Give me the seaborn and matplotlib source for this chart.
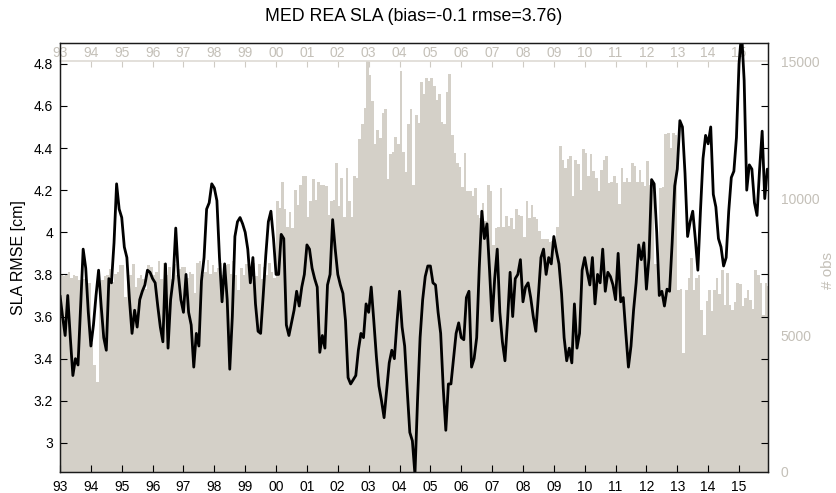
import numpy as np
import pandas as pd
import matplotlib
matplotlib.use("Agg")
import matplotlib.pyplot as plt
import seaborn as sns

# monthly values, Jan 1993 .. Dec 2015 (one row per year)
years = list(range(1993, 2016))

rmse = [
    3.70, 3.60, 3.51, 3.70, 3.50, 3.32, 3.40, 3.37, 3.65, 3.92, 3.83, 3.62,  # 93
    3.46, 3.56, 3.70, 3.82, 3.65, 3.50, 3.44, 3.78, 3.76, 3.95, 4.23, 4.11,  # 94
    4.07, 3.93, 3.88, 3.68, 3.52, 3.63, 3.55, 3.68, 3.72, 3.75, 3.82, 3.81,  # 95
    3.78, 3.76, 3.65, 3.55, 3.48, 3.85, 3.45, 3.68, 3.78, 4.02, 3.80, 3.68,  # 96
    3.62, 3.80, 3.62, 3.56, 3.36, 3.52, 3.46, 3.77, 3.88, 4.11, 4.14, 4.23,  # 97
    4.21, 4.15, 3.88, 3.67, 3.85, 3.68, 3.35, 3.60, 3.98, 4.05, 4.07, 4.04,  # 98
    4.00, 3.92, 3.76, 3.88, 3.66, 3.53, 3.52, 3.70, 3.89, 4.05, 4.10, 3.97,  # 99
    3.80, 3.80, 3.99, 3.97, 3.56, 3.51, 3.57, 3.63, 3.72, 3.65, 3.74, 3.80,  # 00
    3.94, 3.92, 3.83, 3.78, 3.74, 3.43, 3.51, 3.45, 3.75, 3.80, 4.06, 3.92,  # 01
    3.80, 3.75, 3.71, 3.58, 3.31, 3.28, 3.30, 3.32, 3.44, 3.52, 3.50, 3.66,  # 02
    3.62, 3.74, 3.58, 3.41, 3.27, 3.20, 3.12, 3.25, 3.38, 3.44, 3.40, 3.57,  # 03
    3.72, 3.55, 3.46, 3.25, 3.05, 3.01, 2.85, 3.20, 3.50, 3.68, 3.79, 3.84,  # 04
    3.84, 3.76, 3.75, 3.62, 3.52, 3.26, 3.06, 3.28, 3.28, 3.40, 3.52, 3.57,  # 05
    3.50, 3.49, 3.69, 3.72, 3.36, 3.40, 3.50, 3.83, 4.10, 3.97, 4.04, 3.82,  # 06
    3.58, 3.78, 3.92, 3.62, 3.48, 3.39, 3.58, 3.81, 3.60, 3.78, 3.80, 3.87,  # 07
    3.67, 3.74, 3.76, 3.69, 3.60, 3.53, 3.70, 3.88, 3.92, 3.80, 3.88, 3.85,  # 08
    3.98, 3.91, 3.85, 3.71, 3.50, 3.39, 3.45, 3.38, 3.66, 3.45, 3.52, 3.82,  # 09
    3.88, 3.81, 3.75, 3.88, 3.66, 3.80, 3.76, 3.92, 3.72, 3.81, 3.79, 3.75,  # 10
    3.68, 3.90, 3.67, 3.69, 3.52, 3.36, 3.46, 3.63, 3.76, 3.94, 3.87, 3.95,  # 11
    3.73, 3.88, 4.25, 4.23, 4.00, 3.70, 3.72, 3.65, 3.73, 3.72, 3.95, 4.22,  # 12
    4.30, 4.53, 4.50, 4.28, 3.98, 4.05, 4.10, 3.97, 3.82, 4.10, 4.35, 4.46,  # 13
    4.42, 4.50, 4.18, 4.12, 3.97, 3.93, 3.84, 3.88, 4.10, 4.26, 4.29, 4.45,  # 14
    4.80, 4.95, 4.72, 4.20, 4.32, 4.30, 4.14, 4.08, 4.30, 4.48, 4.16, 4.30,  # 15
]

n_obs = [
    7250, 7150, 7200, 7300, 7100, 7200, 7150, 7000, 7100, 7050, 7000, 6900,
    4700, 3900, 3300, 6900, 7000, 7150, 7200, 7400, 6950, 7250, 7300, 7550,
    7550, 6400, 7300, 7200, 7600, 6750, 7100, 7200, 7050, 6700, 7550, 7500,
    7200, 7300, 7700, 7050, 7650, 7200, 7500, 7050, 7600, 7200, 7400, 7500,
    7500, 7100, 7300, 7250, 6550, 7650, 7700, 7200, 7300, 7750, 7250, 7550,
    7300, 7450, 7650, 7200, 7550, 7600, 7250, 7700, 7200, 6650, 7450, 7200,
    7600, 7700, 7100, 7650, 7150, 7600, 7050, 7500, 7200, 7650, 7300, 7100,
    9900, 9650, 10600, 9600, 8950, 9500, 8900, 10300, 9750, 10500, 10800, 10800,
    9300, 9900, 10700, 9950, 10600, 10500, 10500, 10450, 9400, 9900, 9950, 11300,
    9700, 10750, 9300, 11100, 9900, 9300, 10800, 10750, 12150, 12700, 13300, 15000,
    14500, 13560, 12000, 12500, 12200, 13100, 13250, 10700, 11600, 11700, 12250, 12000,
    14650, 11700, 10950, 12700, 13250, 10500, 13050, 12750, 14230, 13800, 14400, 14300,
    14400, 14100, 13600, 13800, 12800, 12700, 13900, 14530, 12300, 11650, 11300, 11150,
    10400, 11650, 10250, 10250, 10100, 10380, 9400, 9280, 9830, 9160, 10500, 10250,
    8300, 8900, 8950, 10380, 8950, 9350, 8980, 9280, 8860, 9590, 9400, 9350,
    8600, 9890, 9280, 9770, 9300, 9250, 8800, 8500, 8500, 8500, 8400, 8450,
    8500, 8950, 11900, 11400, 11100, 11420, 11540, 10100, 11400, 11240, 10300, 11790,
    11650, 10810, 11600, 10990, 10750, 10260, 11050, 11400, 11540, 10570, 10600, 10800,
    10570, 9780, 11110, 10600, 10750, 10600, 11300, 11170, 10600, 11050, 10600, 10440,
    11360, 10500, 10300, 7600, 7500, 10380, 10400, 12330, 12400, 11850, 12400, 12300,
    6660, 6700, 4350, 6650, 7100, 7800, 6650, 7100, 7200, 5900, 5000, 6250,
    6650, 5870, 6660, 7090, 6500, 7390, 6100, 7270, 6100, 5930, 6200, 6900,
    6850, 6050, 6360, 6660, 6300, 5950, 7390, 7210, 6900, 5750, 6900, 6800,
]

left_ticks = [3.0, 3.2, 3.4, 3.6, 3.8, 4.0, 4.2, 4.4, 4.6, 4.8]
right_ticks = [0, 5000, 10000, 15000]

sns.set_style("ticks")
plt.rcParams["font.family"] = ["Liberation Sans", "DejaVu Sans"]
plt.rcParams["text.color"] = "black"
plt.rcParams["axes.labelcolor"] = "black"
plt.rcParams["xtick.color"] = "black"
plt.rcParams["ytick.color"] = "black"

bar_col = "#d4d0c8"
grey_txt = "#c4c0b8"

t = years[0] + np.arange(len(rmse)) / 12
df = pd.DataFrame({"t": t, "tm": t + 1 / 24, "rmse": rmse, "obs": n_obs})

fig = plt.figure(figsize=(8.37, 4.93), dpi=100)
ax = fig.add_axes([0.0717, 0.0426, 0.8459, 0.8695])
ax2 = ax.twinx()
ax.set_zorder(ax2.get_zorder() + 1)
ax.patch.set_visible(False)

# number of observations (background bars, one per month)
sns.histplot(data=df, x="tm", weights="obs", binwidth=1 / 12,
             binrange=(years[0], years[-1] + 1), ax=ax2,
             color=bar_col, alpha=1, linewidth=0)
# rmse curve
sns.lineplot(data=df, x="t", y="rmse", ax=ax, color="black", linewidth=2.0)

obs_top = 15660
ax.set_xlim(1993, 2015.94)
ax.set_ylim(2.862, 4.897)
ax2.set_ylim(0, obs_top)

ax.set_xticks(years)
ax.set_xticklabels([f"{y % 100:02d}" for y in years])
ax.set_yticks(left_ticks)
ax.set_yticklabels([f"{v:g}" for v in left_ticks])
ax.tick_params(axis="both", direction="in", length=5, width=0.8, labelsize=10,
               color="black", labelcolor="black")
ax.tick_params(axis="y", left=True, right=True, pad=5)
ax.tick_params(axis="x", top=False, pad=6)
ax.set_xlabel("")
ax.set_ylabel("SLA RMSE [cm]", fontsize=11.5, ha="center", va="center")
ax.yaxis.set_label_coords(-0.058, 0.5)

ax2.set_yticks(right_ticks)
ax2.set_yticklabels([str(v) for v in right_ticks])
ax2.tick_params(axis="y", length=0, pad=9, labelcolor=grey_txt, labelsize=10)
ax2.set_ylabel("# obs", color=grey_txt, fontsize=11, ha="center", va="center")
ax2.yaxis.set_label_coords(1.085, 0.47)

for sp in ax.spines.values():
    sp.set_color("#1a1a1a")
    sp.set_linewidth(1.0)

# grey year axis on top of the obs bars (at 15000)
sec = ax.secondary_xaxis(15000 / obs_top)
sec.set_xticks(years)
sec.set_xticklabels([f"{y % 100:02d}" for y in years])
sec.tick_params(direction="in", length=4, width=0.8, colors="#cfcbc4",
                labelcolor=grey_txt, labelsize=10, pad=1)
sec.spines["top"].set_color("#dedad4")
sec.spines["top"].set_linewidth(1.2)

fig.text(0.4946, 0.9665, "MED REA SLA (bias=-0.1 rmse=3.76)",
         ha="center", va="center", fontsize=12.8)

fig.savefig("out.png", dpi=100)
